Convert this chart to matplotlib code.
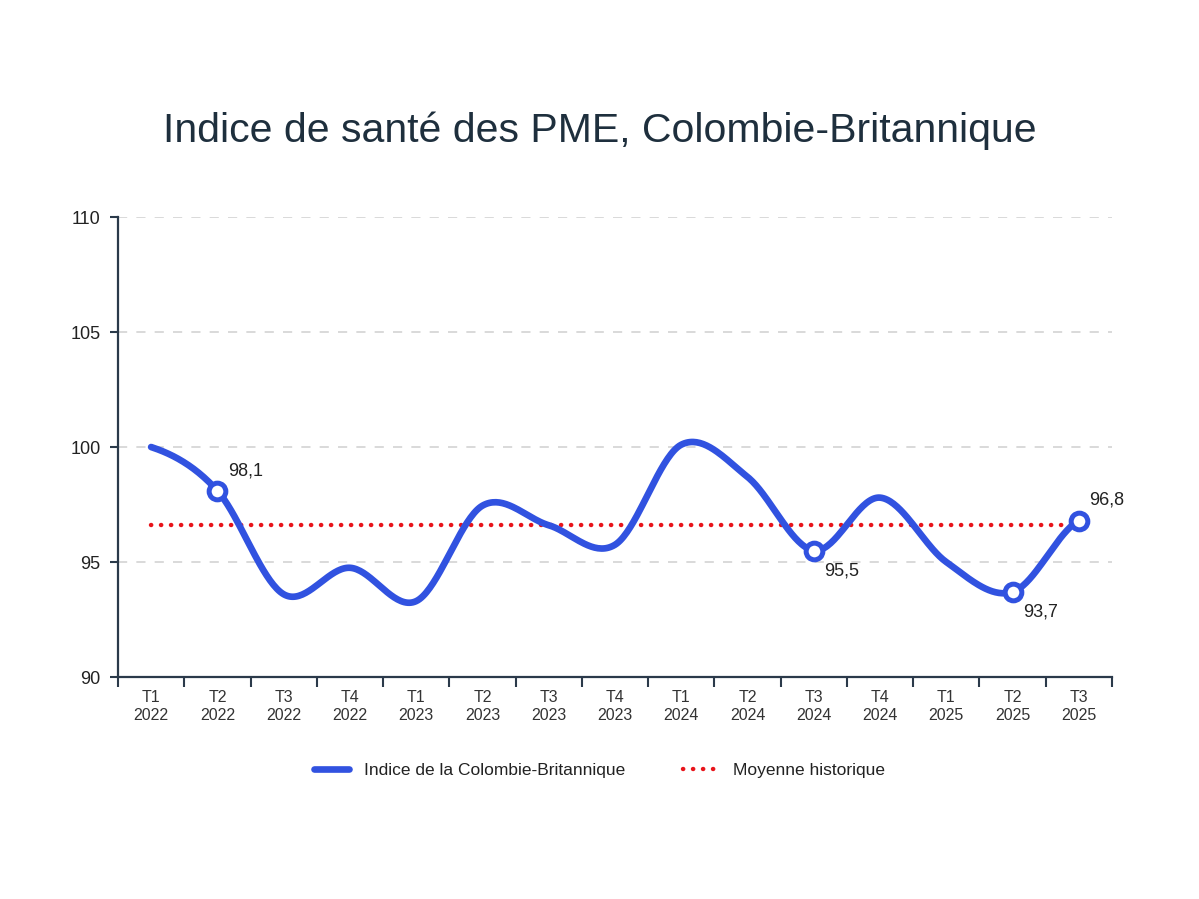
import numpy as np
import matplotlib
matplotlib.use("Agg")
import matplotlib.pyplot as plt
from matplotlib.lines import Line2D

plt.rcParams["font.family"] = ["Liberation Sans", "DejaVu Sans"]

quarters = ["T1", "T2", "T3", "T4", "T1", "T2", "T3", "T4",
            "T1", "T2", "T3", "T4", "T1", "T2", "T3"]
years = ["2022"] * 4 + ["2023"] * 4 + ["2024"] * 4 + ["2025"] * 3
index_values = [100.0, 98.1, 93.6, 94.75, 93.3, 97.45, 96.6, 95.75,
                100.1, 98.7, 95.5, 97.8, 95.0, 93.7, 96.8]
historical_mean = 96.6
highlighted = [1, 10, 13, 14]
highlight_labels = ["98,1", "95,5", "93,7", "96,8"]
label_below = [False, True, True, False]

BLUE = "#3152e0"
RED = "#e8141b"
DARK = "#2b3a4a"


def catmull_rom(x, y, samples=40):
    """Smooth curve through every point (Catmull-Rom spline)."""
    x = np.asarray(x, dtype=float)
    y = np.asarray(y, dtype=float)
    px = np.concatenate([[2 * x[0] - x[1]], x, [2 * x[-1] - x[-2]]])
    py = np.concatenate([[y[0]], y, [y[-1]]])
    xs, ys = [], []
    t = np.linspace(0, 1, samples)
    for i in range(1, len(px) - 2):
        m0 = (py[i + 1] - py[i - 1]) / 2
        m1 = (py[i + 2] - py[i]) / 2
        h00 = 2 * t**3 - 3 * t**2 + 1
        h10 = t**3 - 2 * t**2 + t
        h01 = -2 * t**3 + 3 * t**2
        h11 = t**3 - t**2
        xs.append(px[i] + (px[i + 1] - px[i]) * t)
        ys.append(h00 * py[i] + h10 * m0 + h01 * py[i + 1] + h11 * m1)
    return np.concatenate(xs), np.concatenate(ys)


fig = plt.figure(figsize=(11.99, 8.99), dpi=100)
ax = fig.add_axes([0.0984, 0.2469, 0.8290, 0.5117])

x = np.arange(len(index_values))
sx, sy = catmull_rom(x, index_values)

ax.plot([x[0], x[-1]], [historical_mean] * 2, color=RED, linewidth=3.2,
        linestyle=(0, (0.05, 2.2)), dash_capstyle="round", zorder=2)
ax.plot(sx, sy, color=BLUE, linewidth=4.8, solid_capstyle="round", zorder=3)
ax.plot(x[highlighted], [index_values[i] for i in highlighted], linestyle="none",
        marker="o", markersize=12, markerfacecolor="white",
        markeredgecolor=BLUE, markeredgewidth=3.6, zorder=4)

for i, lab, below in zip(highlighted, highlight_labels, label_below):
    dy = -14.5 if below else 14.5
    ax.annotate(lab, (x[i], index_values[i]), xytext=(7.5, dy),
                textcoords="offset points", ha="left", va="center",
                fontsize=13, color="#222222")

ax.set_xlim(-0.5, len(index_values) - 0.5)
ax.set_ylim(90, 110)
ax.set_yticks([90, 95, 100, 105, 110])
ax.set_xticks(x)
ax.set_xticklabels([f"{q}\n{y}" for q, y in zip(quarters, years)],
                   fontsize=11.5, color="#333333", linespacing=1.32)
ax.set_xticks(np.arange(-0.5, len(index_values)), minor=True)
ax.tick_params(axis="x", which="major", length=0, pad=9)
ax.tick_params(axis="x", which="minor", length=7, width=1.5, color=DARK)
ax.tick_params(axis="y", length=6, width=1.5, color=DARK, labelsize=13,
               labelcolor="#222222", pad=6.5)

ax.grid(axis="y", color="#cfcfcf", linestyle=(0, (6, 6)), linewidth=1.1)
ax.set_axisbelow(True)
for side in ("top", "right"):
    ax.spines[side].set_visible(False)
for side in ("left", "bottom"):
    ax.spines[side].set_color(DARK)
    ax.spines[side].set_linewidth(1.6)

fig.text(0.5, 0.855, "Indice de santé des PME, Colombie-Britannique",
         ha="center", va="center", fontsize=29.5, color="#1e2f3d")

handles = [
    Line2D([], [], color=BLUE, linewidth=4.8, solid_capstyle="round"),
    Line2D([], [], color=RED, linewidth=3.2, linestyle=(0, (0.05, 2.2)),
           dash_capstyle="round"),
]
fig.legend(handles, ["Indice de la Colombie-Britannique", "Moyenne historique"],
           loc="center", bbox_to_anchor=(0.5, 0.143), ncol=2, frameon=False,
           fontsize=12.5, handlelength=2.0, columnspacing=3.3,
           handletextpad=0.9, labelcolor="#222222")

fig.savefig("out.png", dpi=100)
